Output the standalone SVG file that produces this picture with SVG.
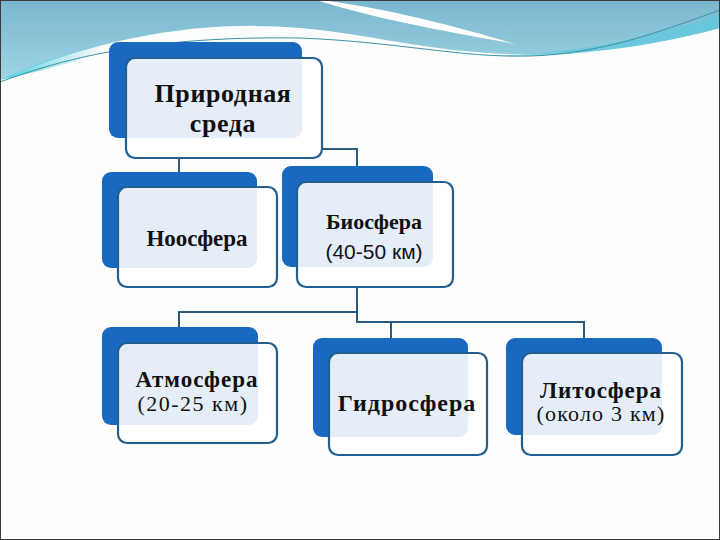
<svg xmlns="http://www.w3.org/2000/svg" width="720" height="540" viewBox="0 0 720 540">
<defs>
<linearGradient id="ban" x1="0" y1="0" x2="0" y2="1">
<stop offset="0" stop-color="#7ab6cf"/>
<stop offset="1" stop-color="#9fd5e4"/>
</linearGradient>
<linearGradient id="cy" x1="0" y1="0" x2="1" y2="0">
<stop offset="0" stop-color="#3fd2e2"/>
<stop offset="1" stop-color="#8fcde0" stop-opacity="0"/>
</linearGradient>
<style>
.back{fill:#1a69c0}
.front{fill:#ffffff;fill-opacity:0.89;stroke:#225f8f;stroke-width:2.2}
.conn{fill:none;stroke:#2a5b7d;stroke-width:2}
.b{font-family:"Liberation Serif","Times New Roman",serif;font-weight:bold;fill:#111;text-anchor:middle}
.r{font-family:"Liberation Serif","Times New Roman",serif;fill:#111;text-anchor:middle}
.s{font-family:"Liberation Sans",Arial,sans-serif;fill:#111;text-anchor:middle}
</style>
</defs>
<rect x="0" y="0" width="720" height="540" fill="#fdfdfd"/>
<g id="banner">
<path d="M0,0 H720 V28 C660,44 590,56 510,54 C430,52 370,34 300,28 C210,20 110,34 0,80 Z" fill="url(#ban)"/>
<path d="M0,80 C40,62 70,50 110,44 L80,60 C50,68 25,75 0,80 Z" fill="url(#cy)"/>
<path d="M440,54 C530,60 620,48 720,14 V28 C660,44 590,56 510,56 C480,56 460,55 440,54 Z" fill="#5cc9dd" fill-opacity="0.7"/>
<path d="M316,0 C350,2 430,18 515,44 C440,30 380,20 316,0 Z" fill="#ffffff"/>
<path d="M0,82 C80,52 170,36 300,38 C400,42 460,58 530,56 C600,54 660,32 720,10" fill="none" stroke="#3b93a5" stroke-width="1"/>
<path d="M0,86 C90,58 180,44 300,46 C390,50 450,62 520,60" fill="none" stroke="#ffffff" stroke-width="2"/>
</g>
<g id="connectors">
<path class="conn" d="M179,158 V172"/>
<path class="conn" d="M322,149 H357 V166"/>
<path class="conn" d="M357,287 V322 H584 V338"/>
<path class="conn" d="M391,322 V338"/>
<path class="conn" d="M357,312 H179 V327"/>
</g>
<g id="node-priroda">
<rect class="back" x="109" y="42" width="193" height="96" rx="9"/>
<rect class="front" x="126" y="58" width="196" height="100" rx="9"/>
<text class="b" x="223" y="102" font-size="26" letter-spacing="0.6">Природная</text>
<text class="b" x="223" y="132" font-size="26" letter-spacing="0.6">среда</text>
</g>
<g id="node-noosfera">
<rect class="back" x="102" y="172" width="155" height="96" rx="9"/>
<rect class="front" x="118" y="187" width="159" height="100" rx="9"/>
<text class="b" x="197" y="246" font-size="23">Ноосфера</text>
</g>
<g id="node-biosfera">
<rect class="back" x="282" y="166" width="151" height="101" rx="9"/>
<rect class="front" x="297" y="182" width="156" height="105" rx="9"/>
<text class="b" x="374" y="229" font-size="22">Биосфера</text>
<text class="s" x="374" y="259" font-size="21">(40-50 км)</text>
</g>
<g id="node-atmosfera">
<rect class="back" x="102" y="327" width="156" height="98" rx="9"/>
<rect class="front" x="118" y="343" width="159" height="100" rx="9"/>
<text class="b" x="197" y="387" font-size="23" letter-spacing="1">Атмосфера</text>
<text class="r" x="193" y="411" font-size="22" letter-spacing="1.5">(20-25 км)</text>
</g>
<g id="node-gidrosfera">
<rect class="back" x="313" y="338" width="155" height="99" rx="9"/>
<rect class="front" x="329" y="353" width="158" height="102" rx="9"/>
<text class="b" x="407" y="411" font-size="24" letter-spacing="1">Гидросфера</text>
</g>
<g id="node-litosfera">
<rect class="back" x="506" y="338" width="156" height="97" rx="9"/>
<rect class="front" x="522" y="353" width="160" height="102" rx="9"/>
<text class="b" x="601" y="398" font-size="23" letter-spacing="1">Литосфера</text>
<text class="r" x="601" y="421" font-size="22" letter-spacing="1.2">(около 3 км)</text>
</g>
<rect x="0.5" y="0.5" width="719" height="539" fill="none" stroke="#3a3a3a" stroke-width="1"/>
</svg>
